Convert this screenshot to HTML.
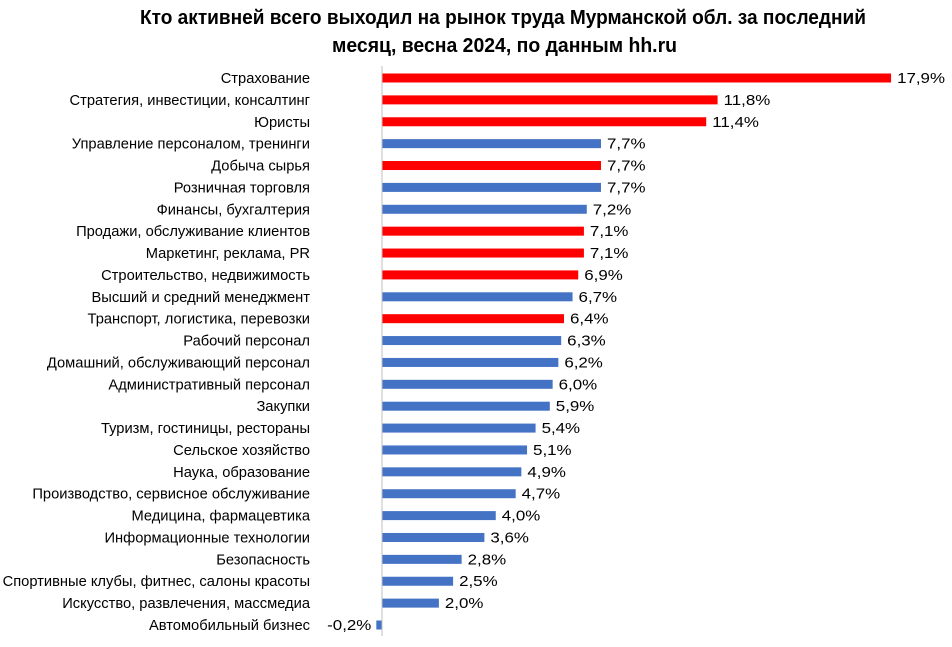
<!DOCTYPE html>
<html><head><meta charset="utf-8"><style>
body{margin:0;background:#fff;width:952px;height:642px;overflow:hidden}
svg text{font-family:"Liberation Sans Narrow","Liberation Sans",sans-serif}
</style></head><body>
<svg id="chart" width="952" height="642" xmlns="http://www.w3.org/2000/svg">
<text x="140" y="24" textLength="726" lengthAdjust="spacingAndGlyphs" font-size="20" font-weight="bold">Кто активней всего выходил на рынок труда  Мурманской обл. за последний</text>
<text x="332" y="52" textLength="345" lengthAdjust="spacingAndGlyphs" font-size="20" font-weight="bold">месяц, весна 2024, по данным hh.ru</text>
<g id="bars"></g>
</svg>
<script>
const categories=["Страхование","Стратегия, инвестиции, консалтинг","Юристы","Управление персоналом, тренинги","Добыча сырья","Розничная торговля","Финансы, бухгалтерия","Продажи, обслуживание клиентов","Маркетинг, реклама, PR","Строительство, недвижимость","Высший и средний менеджмент","Транспорт, логистика, перевозки","Рабочий персонал","Домашний, обслуживающий персонал","Административный персонал","Закупки","Туризм, гостиницы, рестораны","Сельское хозяйство","Наука, образование","Производство, сервисное обслуживание","Медицина, фармацевтика","Информационные технологии","Безопасность","Спортивные клубы, фитнес, салоны красоты","Искусство, развлечения, массмедиа","Автомобильный бизнес"];
const values=[17.9,11.8,11.4,7.7,7.7,7.7,7.2,7.1,7.1,6.9,6.7,6.4,6.3,6.2,6.0,5.9,5.4,5.1,4.9,4.7,4.0,3.6,2.8,2.5,2.0,-0.2];
const highlighted=[1,1,1,0,1,0,0,1,1,1,0,1,0,0,0,0,0,0,0,0,0,0,0,0,0,0];
const NS="http://www.w3.org/2000/svg";
const x0=382,pxPer=28.44,y0=78,step=21.88,bh=9;
const xs=v=>x0+v*pxPer, ys=i=>y0+i*step;
const g=document.getElementById('bars');
function mk(t,a){const e=document.createElementNS(NS,t);for(const k in a)e.setAttribute(k,a[k]);g.appendChild(e);return e;}
categories.forEach((c,i)=>{
  const v=values[i],y=ys(i);
  const r=mk('rect',{x:Math.min(xs(0),xs(v)),y:y-bh/2,width:Math.abs(xs(v)-xs(0)),height:bh,fill:highlighted[i]?'#FF0000':'#4472C4'});
  
  
  const l=mk('text',{x:310,y:y+5,'text-anchor':'end','font-size':14.7});
  l.textContent=c;
  
  
  const vx=v>=0?xs(v)+6:xs(v)-5;
  const vl=mk('text',{x:0,y:0,'text-anchor':v>=0?'start':'end','font-size':14.7,transform:'translate('+vx+','+(y+5)+') scale(1.15,1)'});
  vl.textContent=v.toFixed(1).replace('.',',')+'%';
  
  
});
const ax=mk('line',{x1:x0,x2:x0,y1:66,y2:636,stroke:'#bfbfbf','stroke-width':1});


</script>
</body></html>
